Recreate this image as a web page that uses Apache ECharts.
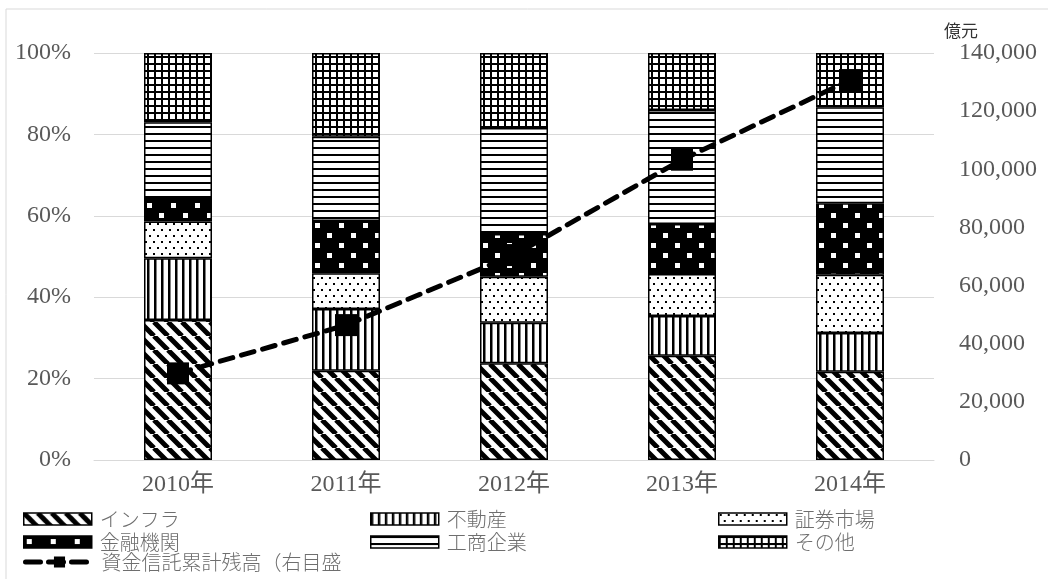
<!DOCTYPE html>
<html>
<head>
<meta charset="utf-8">
<script src="https://cdn.jsdelivr.net/npm/echarts@6/dist/echarts.min.js"></script>
<style>
  html, body { margin: 0; padding: 0; background: #fff; }
  #chart { width: 1048px; height: 579px; }
</style>
</head>
<body>
<div id="chart"></div>
<script>
// 年次カテゴリ
const years = ['2010年', '2011年', '2012年', '2013年', '2014年'];

// 資金信託の投資先構成比（%）
const infra      = [34.4, 21.9, 23.8, 25.6, 21.7];
const realEstate = [15.2, 15.2,  9.9,  9.8,  9.5];
const securities = [ 9.0,  8.8, 11.3, 10.3, 14.3];
const financial  = [ 5.8, 12.8, 10.5, 12.3, 17.6];
const industry   = [18.6, 20.7, 26.1, 28.0, 23.6];
const others     = [17.0, 20.6, 18.4, 14.0, 13.3];

// 資金信託累計残高（億元、右目盛）
const balance = [29800, 46400, 70500, 103300, 130700];

// 凡例名
const names = ['インフラ', '不動産', '証券市場', '金融機関', '工商企業', 'その他', '資金信託累計残高（右目盛'];

// ハッチング用のタイル
function tile(w, h, draw) {
  const c = document.createElement('canvas');
  c.width = w; c.height = h;
  const g = c.getContext('2d');
  g.fillStyle = '#fff';
  g.fillRect(0, 0, w, h);
  g.fillStyle = '#000';
  g.strokeStyle = '#000';
  draw(g, w, h);
  return { image: c, repeat: 'repeat' };
}

const patDiagonal = tile(14, 14, (g, w, h) => {
  g.lineWidth = 5;
  g.beginPath();
  for (const o of [-w, 0, w]) { g.moveTo(o, 0); g.lineTo(o + w, h); }
  g.stroke();
});
const patVertical = tile(7, 4, (g, w, h) => { g.fillRect(0, 0, 2.5, h); });
const patDots = tile(8, 12, (g) => { g.fillRect(1, 1, 2, 2); g.fillRect(5, 7, 2, 2); });
const patBlackSquares = tile(24, 20, (g, w, h) => {
  g.fillRect(0, 0, w, h);
  g.fillStyle = '#fff';
  g.fillRect(3, 3, 5, 5);
  g.fillRect(15, 13, 5, 5);
});
const patHorizontal = tile(4, 7.5, (g, w) => { g.fillRect(0, 0, w, 2); });
const patGrid = tile(7, 7, (g, w, h) => { g.fillRect(0, 0, w, 2); g.fillRect(0, 0, 2, h); });

const serif = '"Liberation Serif", "Noto Sans CJK JP", serif';
const sans = '"Noto Sans CJK JP", sans-serif';
const labelColor = '#595959';
const gridColor = '#d9d9d9';

function barSeries(name, data, pattern) {
  return {
    name: name,
    type: 'bar',
    stack: 'share',
    barWidth: 68,
    data: data,
    itemStyle: { color: pattern, borderColor: '#000', borderWidth: 1.5 }
  };
}

// 凡例：各項目を3列のグリッドに配置
const legendSlots = [
  [names[0], 18, 504], [names[1], 365, 504], [names[2], 713, 504],
  [names[3], 18, 527], [names[4], 365, 527], [names[5], 713, 527],
  [names[6], 18, 547]
];
const legends = legendSlots.map(([name, left, top]) => ({
  data: [{ name: name, icon: name === names[6] ? undefined : 'rect' }],
  left: left,
  top: top,
  itemWidth: 68,
  itemHeight: 12,
  itemGap: 8,
  itemStyle: { borderColor: '#000', borderWidth: 1.5 },
  lineStyle: { color: '#000', width: 5, type: [15, 8], cap: 'round' },
  textStyle: { color: '#6e6e6e', fontSize: 20, fontWeight: 300, fontFamily: sans, padding: [0, 0, 0, 3] },
  selectedMode: false
}));

const chart = echarts.init(document.getElementById('chart'), null, { renderer: 'canvas' });
chart.setOption({
  animation: false,
  backgroundColor: '#fff',
  grid: { left: 94, right: 114, top: 53, bottom: 119 },
  legend: legends,
  graphic: [
    { type: 'rect', shape: { x: 6, y: 9, width: 1060, height: 600 },
      style: { fill: 'none', stroke: gridColor, lineWidth: 1 }, silent: true },
    { type: 'text', left: 944, top: 22,
      style: { text: '億元', fill: '#333', font: '17px ' + sans } }
  ],
  xAxis: {
    type: 'category',
    data: years,
    axisLine: { lineStyle: { color: gridColor, width: 1 } },
    axisTick: { show: false },
    axisLabel: { color: labelColor, fontSize: 24, fontFamily: serif, margin: 13 }
  },
  yAxis: [
    {
      type: 'value', min: 0, max: 100, interval: 20,
      axisLine: { show: false }, axisTick: { show: false },
      splitLine: { lineStyle: { color: gridColor, width: 1 } },
      axisLabel: { formatter: '{value}%', color: labelColor, fontSize: 24, fontFamily: serif, margin: 23 }
    },
    {
      type: 'value', min: 0, max: 140000, interval: 20000,
      axisLine: { show: false }, axisTick: { show: false },
      splitLine: { show: false },
      axisLabel: {
        formatter: (v) => v.toLocaleString('en-US'),
        color: labelColor, fontSize: 24, fontFamily: serif, margin: 25, align: 'left'
      }
    }
  ],
  series: [
    barSeries(names[0], infra, patDiagonal),
    barSeries(names[1], realEstate, patVertical),
    barSeries(names[2], securities, patDots),
    barSeries(names[3], financial, patBlackSquares),
    barSeries(names[4], industry, patHorizontal),
    barSeries(names[5], others, patGrid),
    {
      name: names[6],
      type: 'line',
      yAxisIndex: 1,
      data: balance,
      z: 5,
      symbol: 'rect',
      symbolSize: 22,
      itemStyle: { color: '#000' },
      lineStyle: { color: '#000', width: 5, type: [13, 9], cap: 'round' }
    }
  ]
});
</script>
</body>
</html>
